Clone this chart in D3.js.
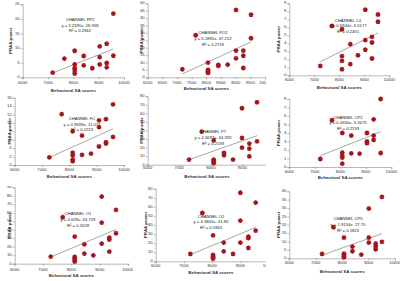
<!DOCTYPE html>
<html><head><meta charset="utf-8">
<script src="https://cdn.jsdelivr.net/npm/d3@7"></script>
<style>body{margin:0;background:#fff}svg{display:block}</style>
</head><body>
<svg id="c" width="400" height="281"></svg>
<script>
// ---- data ----
const channels = ["CHANNEL FP2","CHANNEL PO2","CHANNEL C4","CHANNEL FC","CHANNEL P7","CHANNEL CP2","CHANNEL O1","CHANNEL O2","CHANNEL CP5"];
const equations = ["y = 3.2391x- 18.358","y = 5.1881x- 47.212","y = 0.5344x- 6.5177","y = 0.9339x- 11.077","y = 4.3697x- 64.392","y = 0.4350x- 5.3475","y = 4.628x- 64.729","y = 4.3845x- 61.83","y = 1.9134x- 27.75"];
const rSquared = ["R² = 0.2942","R² = 0.2726","R² = 0.2451","R² = 0.2223","R² = 0.2199","R² = 0.2139","R² = 0.2028","R² = 0.1964","R² = 0.1825"];
const xTitle = "Behavioral SA scores";
const yTitle = "PRAA power";

const xP1 = [7184,7645,8053,8053,8053,8053,8053,8408,8408,8750,9040,9040,9040,9316,9316,9316,9580,9580];
const yP1 = [1.6,6.4,9.1,4.4,3.1,2.2,1.25,7.3,4.1,3.1,10.6,6.9,4.4,11.5,4.9,3.4,21.8,7.4];
const xP2 = [7182,7636,8057,8057,8057,8057,8057,8409,8409,8727,9011,9011,9011,9261,9261,9261,9523,9523];
const yP2 = [5.4,28.4,9.9,5.0,4.2,3.5,3.0,8.3,7.7,8.6,45.5,18.0,12.8,18.0,14.6,6.3,42.3,26.4];
const xP3 = [7240,7707,8107,8107,8107,8107,8440,8440,8747,9040,9040,9040,9307,9307,9307,9547,9547];
const yP3 = [1.17,6.17,5.75,2.4,1.8,0.75,3.9,1.4,2.5,8.2,4.4,3.2,4.8,4.1,2.1,7.6,6.7];
const xP4 = [7268,7720,8122,8122,8122,8122,8122,8463,8463,8793,9085,9085,9085,9341,9341,9341,9598,9598];
const yP4 = [1.8,12.1,8.0,2.9,2.3,1.3,0.9,7.0,2.4,2.7,10.6,9.0,4.4,10.9,5.4,5.1,14.4,6.7];
const xP5 = [7309,7710,8090,8090,8090,8090,8090,8417,8417,8702,8987,8987,8987,9219,9219,9219,9462,9462];
const yP5 = [5.9,38.7,28.5,5.9,4.7,3.1,2.0,13.7,10.9,5.9,66,31.3,19.9,24.6,18.8,9.8,73,27.3];
const xP6 = [7216,7673,8078,8078,8078,8078,8078,8431,8431,8758,9046,9046,9046,9307,9307,9307,9582,9582];
const yP6 = [0.94,5.5,4.0,1.7,1.3,1.1,0.4,3.7,1.6,1.57,4.0,3.0,2.8,5.6,3.7,3.2,8.0,1.65];
const xP7 = [7271,7694,8118,8118,8118,8118,8118,8459,8459,8776,9071,9071,9071,9341,9341,9341,9576,9576];
const yP7 = [8.3,54.7,31.9,7.9,5.9,4.3,2.4,22.8,11.8,9.8,79.1,48.4,23.6,30.7,28.3,14.2,63.4,35.8];
const xP8 = [7227,7652,8030,8030,8030,8030,8030,8407,8407,8737,8997,8997,8997,9280,9280,9280,9540,9540];
const yP8 = [8.1,53.2,28.6,7.0,5.5,4.0,2.9,20.6,11.0,8.1,75.6,44.8,20.6,27.2,25.7,14.7,64.6,33.8];
const xP9 = [7238,7672,8068,8068,8068,8068,8068,8390,8390,8724,9009,9009,9009,9269,9269,9269,9505,9505];
const yP9 = [2.6,18.5,12.4,2.8,2.0,1.2,0.6,7.0,4.2,2.2,29.7,12.4,9.4,8.8,7.2,5.4,36.7,9.8];
// trendline endpoints [x1, y1, x2, y2]
const trend = [[7184,1.5,9580,9.7],[7182,2.25,9523,23.9],[7240,1.7,9547,5.3],[7268,1.8,9598,8.6],[7309,5.9,9462,34],[7216,1.33,9582,4.15],[7271,7.9,9576,40.2],[7227,7.3,9540,37.4],[7238,1.8,9505,14.7]];
const yMaxes = [25,50,9,16,80,8,90,80,40];
const yStepsV = [5,5,1,2,10,1,10,10,5];
const xStepsV = [1000,500,1000,1000,1000,1000,1000,1000,1000];
const xsAll = [xP1,xP2,xP3,xP4,xP5,xP6,xP7,xP8,xP9];
const ysAll = [yP1,yP2,yP3,yP4,yP5,yP6,yP7,yP8,yP9];

// ---- layout (pixel geometry per panel) ----
const layout = [
 {ox:0,oy:0,w:133,h:93,L:22.7,R:124,T:4.3,B:77.3,xl:82.7,xt:90.7,yl:10.7,ax:80,ay:20},
 {ox:133,oy:0,w:133,h:93,L:14.7,R:132,T:3.3,B:77.3,xl:82.7,xt:89.3,yl:9.3,ax:80,ay:33.3},
 {ox:266,oy:0,w:134,h:93,L:23.3,R:123.3,T:3.3,B:75.3,xl:80,xt:88.3,yl:12.7,ax:82,ay:20.7},
 {ox:0,oy:93,w:133,h:93,L:14.7,R:124,T:4.7,B:72,xl:76.7,xt:84.3,yl:10,ax:82,ay:26},
 {ox:133,oy:93,w:133,h:93,L:14.7,R:141,T:3.3,B:71.7,xl:75.3,xt:84,yl:9.3,ax:80,ay:39.3},
 {ox:266,oy:93,w:134,h:93,L:23.3,R:125.3,T:6,B:74,xl:79.3,xt:85,yl:13.3,ax:82,ay:24.5},
 {ox:0,oy:186,w:133,h:95,L:14.7,R:128,T:1.3,B:77.7,xl:84.3,xt:90,yl:10,ax:78,ay:28.3},
 {ox:133,oy:186,w:133,h:95,L:22.7,R:135.7,T:2.7,B:75.3,xl:80.3,xt:87.3,yl:12.7,ax:78,ay:30.7},
 {ox:266,oy:186,w:134,h:95,L:23.3,R:129,T:5.3,B:72.3,xl:77.3,xt:86,yl:13.3,ax:82,ay:33.3}
];

const svg = d3.select("#c");
const font = "'Liberation Sans', Arial, sans-serif";
const axisCol = "#8a8a8a", textCol = "#333", markCol = "#a3161c";

layout.forEach((g, i) => {
  svg.append("clipPath").attr("id","cp"+i).append("rect").attr("width",g.w).attr("height",g.h);
  const p = svg.append("g").attr("transform",`translate(${g.ox},${g.oy})`).attr("clip-path",`url(#cp${i})`);
  p.append("rect").attr("width",g.w).attr("height",g.h).attr("fill","#fff");
  const x = d3.scaleLinear().domain([6000,10000]).range([g.L,g.R]);
  const y = d3.scaleLinear().domain([0,yMaxes[i]]).range([g.B,g.T]);

  const xTicks = d3.range(6000,10000+1,xStepsV[i]);
  const yTicks = d3.range(0,yMaxes[i]+0.001,yStepsV[i]);

  const xa = d3.axisBottom(x).tickValues(xTicks).tickSize(2).tickFormat("");
  const ya = d3.axisLeft(y).tickValues(yTicks).tickSize(2).tickFormat("");
  const gx = p.append("g").attr("transform",`translate(0,${g.B})`).call(xa);
  const gy = p.append("g").attr("transform",`translate(${g.L},0)`).call(ya);
  [gx,gy].forEach(a=>{a.selectAll("path,line").attr("stroke",axisCol).attr("stroke-width",0.6);});

  p.selectAll(".xl").data(xTicks).enter().append("text")
    .attr("x",d=>x(d)).attr("y",g.xl).attr("text-anchor","middle").attr("dominant-baseline","middle")
    .attr("font-family",font).attr("font-size",4.2).attr("fill",textCol).text(d=>d);
  p.selectAll(".yl").data(yTicks).enter().append("text")
    .attr("x",g.L-3).attr("y",d=>y(d)).attr("text-anchor","end").attr("dominant-baseline","middle")
    .attr("font-family",font).attr("font-size",4.2).attr("fill",textCol).text(d=>d);

  p.append("text").attr("x",(g.L+Math.min(g.R,g.w))/2).attr("y",g.xt).attr("text-anchor","middle")
    .attr("dominant-baseline","middle").attr("font-family",font).attr("font-size",4.4)
    .attr("font-weight","bold").attr("fill",textCol).text(xTitle);
  p.append("text").attr("transform",`translate(${g.yl},${(g.T+g.B)/2}) rotate(-90)`)
    .attr("text-anchor","middle").attr("dominant-baseline","middle").attr("font-family",font)
    .attr("font-size",4.4).attr("font-weight","bold").attr("fill",textCol).text(yTitle);

  const t = trend[i];
  p.append("line").attr("x1",x(t[0])).attr("y1",y(t[1])).attr("x2",x(t[2])).attr("y2",y(t[3]))
    .attr("stroke","#808080").attr("stroke-width",0.7);

  const s = 2.4, d7 = s*0.72;
  const star = `M${-s},0L${s},0M0,${-s}L0,${s}M${-d7},${-d7}L${d7},${d7}M${-d7},${d7}L${d7},${-d7}`;
  const pts = xsAll[i].map((v,k)=>[v, ysAll[i][k]]);
  p.selectAll(".pt").data(pts).enter().append("path")
    .attr("transform",d=>`translate(${x(d[0])},${y(d[1])})`).attr("d",star)
    .attr("stroke",markCol).attr("stroke-width",1.3).attr("fill","none");

  [channels[i], equations[i], rSquared[i]].forEach((txt,k)=>{
    p.append("text").attr("x",g.ax).attr("y",g.ay+k*5.6).attr("text-anchor","middle")
      .attr("dominant-baseline","middle").attr("font-family",font).attr("font-size",4.2)
      .attr("fill","#222").text(txt);
  });
});
</script>
</body></html>
